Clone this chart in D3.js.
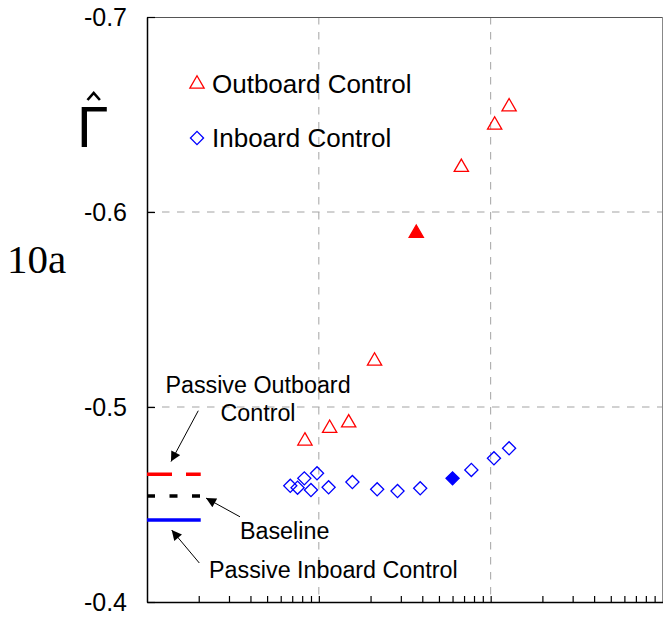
<!DOCTYPE html>
<html><head><meta charset="utf-8">
<script src="https://cdn.jsdelivr.net/npm/d3@7"></script>
<style>
body{margin:0;background:#fff}
svg{display:block}
text{font-family:Arial,"Liberation Sans",sans-serif;fill:#000}
</style>
</head><body>
<svg id="chart" width="664" height="621"></svg>
<script>
// ---------- data ----------
const outboardX = [0.0083, 0.01156, 0.01492, 0.0211, 0.0369, 0.0675, 0.1055, 0.128];
const outboardY = [-0.4826, -0.4891, -0.4919, -0.5236, -0.5891, -0.6229, -0.6446, -0.654];
const outboardFilled = [false, false, false, false, true, false, false, false];

const inboardX = [0.00682, 0.00752, 0.00823, 0.0090, 0.00976, 0.0114, 0.01568, 0.02185, 0.0287, 0.0389, 0.060, 0.0772, 0.1045, 0.128];
const inboardY = [-0.4596, -0.4586, -0.4634, -0.4574, -0.4660, -0.4588, -0.4615, -0.4578, -0.4569, -0.4583, -0.4634, -0.4677, -0.4737, -0.4788];
const inboardFilled = [false, false, false, false, false, false, false, false, false, false, true, false, false, false];

const refNames = ["Passive Outboard Control", "Baseline", "Passive Inboard Control"];
const refValues = [-0.4655, -0.4544, -0.4421];
const refXExtent = [0.001, 0.002];

const yTicks = [-0.7, -0.6, -0.5, -0.4];
const yTickLabels = ["-0.7", "-0.6", "-0.5", "-0.4"];
const xGrid = [0.01, 0.1];
const yGrid = [-0.6, -0.5];
const xDomain = [0.001, 1];
const yDomain = [-0.7, -0.4];

const legendNames = ["Outboard Control", "Inboard Control"];

// annotation anchors in data coordinates
const annTextLines = [["Passive Outboard", "Control"], ["Baseline"], ["Passive Inboard Control"]];
const annTextX = [0.004426, 0.003476, 0.002296];
const annTextY = [-0.5072, -0.4323, -0.4123];
const annArrowFromX = [0.001988, 0.003476, 0.002016];
const annArrowFromY = [-0.4981, -0.4437, -0.4200];
const annArrowToX = [0.001379, 0.002205, 0.001392];
const annArrowToY = [-0.4720, -0.4533, -0.4369];

// ---------- layout ----------
const plot = {left: 147, right: 662.5, top: 17, bottom: 602};
const svg = d3.select("#chart");

const x = d3.scaleLog().domain(xDomain).range([plot.left, plot.right]);
const y = d3.scaleLinear().domain(yDomain).range([plot.top, plot.bottom]);

const gridColor = "#a3a3a3";
const sans = "Arial, 'Liberation Sans', sans-serif";

// gridlines
svg.append("g").selectAll("line").data(xGrid).join("line")
  .attr("x1", d => x(d)).attr("x2", d => x(d))
  .attr("y1", plot.top).attr("y2", plot.bottom)
  .attr("stroke", gridColor).attr("stroke-width", 1).attr("stroke-dasharray", "7.5,7.5");
svg.append("g").selectAll("line").data(yGrid).join("line")
  .attr("x1", plot.left).attr("x2", plot.right)
  .attr("y1", d => y(d)).attr("y2", d => y(d))
  .attr("stroke", gridColor).attr("stroke-width", 1).attr("stroke-dasharray", "7.5,7.5");

// top & right frame
svg.append("line").attr("x1", plot.left).attr("x2", plot.right).attr("y1", plot.top + 0.5).attr("y2", plot.top + 0.5)
  .attr("stroke", "#555").attr("stroke-width", 1);
svg.append("line").attr("x1", plot.right).attr("x2", plot.right).attr("y1", plot.top).attr("y2", plot.bottom)
  .attr("stroke", "#888").attr("stroke-width", 1);

// y axis
const yAxis = d3.axisLeft(y).tickValues(yTicks).tickSizeInner(-8).tickSizeOuter(0).tickPadding(20)
  .tickFormat((d, i) => yTickLabels[i]);
const gy = svg.append("g").attr("transform", `translate(${plot.left},0)`).call(yAxis);
gy.select(".domain").attr("stroke", "#000").attr("stroke-width", 1.5);
gy.selectAll(".tick line").attr("stroke", "#000").attr("stroke-width", 1.2);
gy.selectAll(".tick text").attr("font-size", 25).style("font-family", sans).attr("fill", "#000");

// x axis (minor log ticks, no labels)
const xTickVals = [];
[0.001, 0.01, 0.1].forEach(dec => { for (let k = 2; k <= 10; k++) xTickVals.push(+(dec * k).toPrecision(3)); });
const xAxis = d3.axisBottom(x).tickValues(xTickVals.filter(v => v < 1)).tickSizeInner(-6).tickSizeOuter(0).tickFormat("");
const gx = svg.append("g").attr("transform", `translate(0,${plot.bottom})`).call(xAxis);
gx.select(".domain").attr("stroke", "#000").attr("stroke-width", 1.5);
gx.selectAll(".tick line").attr("stroke", "#000").attr("stroke-width", 1.2);

// reference lines
const refColors = ["#ff0000", "#000000", "#0000ff"];
const refDash = ["25,14", "8,14.5", null];
svg.append("g").selectAll("line").data(refValues).join("line")
  .attr("x1", x(refXExtent[0])).attr("x2", x(refXExtent[1]) + 2)
  .attr("y1", d => y(d)).attr("y2", d => y(d))
  .attr("stroke", (d, i) => refColors[i]).attr("stroke-width", 3.5)
  .attr("stroke-dasharray", (d, i) => refDash[i]);

// arrows
const defs = svg.append("defs");
defs.append("marker").attr("id", "ah").attr("viewBox", "0 0 10 10").attr("refX", 10).attr("refY", 5)
  .attr("markerWidth", 13).attr("markerHeight", 10).attr("markerUnits", "userSpaceOnUse").attr("orient", "auto")
  .append("path").attr("d", "M0,0 L10,5 L0,10 Z").attr("fill", "#000");
svg.append("g").selectAll("line").data(annArrowFromX).join("line")
  .attr("x1", (d, i) => x(annArrowFromX[i])).attr("y1", (d, i) => y(annArrowFromY[i]))
  .attr("x2", (d, i) => x(annArrowToX[i])).attr("y2", (d, i) => y(annArrowToY[i]))
  .attr("stroke", "#000").attr("stroke-width", 1).attr("marker-end", "url(#ah)");

// annotation text
const annAnchor = ["middle", "start", "start"];
annTextLines.forEach((lines, i) => {
  lines.forEach((ln, j) => {
    svg.append("text").attr("x", x(annTextX[i])).attr("y", y(annTextY[i]) + j * 28)
      .attr("text-anchor", annAnchor[i]).attr("font-size", 23.3).text(ln);
  });
});

// symbols
const tri = d3.symbol().type(d3.symbolTriangle).size(88);
const dia = d3.symbol().type(d3.symbolSquare).size(86);

svg.append("g").selectAll("path").data(inboardX).join("path")
  .attr("d", dia)
  .attr("transform", (d, i) => `translate(${x(inboardX[i])},${y(inboardY[i])}) rotate(45)`)
  .attr("fill", (d, i) => inboardFilled[i] ? "#0000ff" : "none")
  .attr("stroke", "#0000ff").attr("stroke-width", 1.3);

svg.append("g").selectAll("path").data(outboardX).join("path")
  .attr("d", tri)
  .attr("transform", (d, i) => `translate(${x(outboardX[i])},${y(outboardY[i])})`)
  .attr("fill", (d, i) => outboardFilled[i] ? "#ff0000" : "none")
  .attr("stroke", "#ff0000").attr("stroke-width", 1.3);

// legend
const legY = [84, 138];
svg.append("path").attr("d", tri).attr("transform", `translate(197,${legY[0]})`)
  .attr("fill", "none").attr("stroke", "#ff0000").attr("stroke-width", 1.3);
svg.append("path").attr("d", dia).attr("transform", `translate(197,${legY[1]}) rotate(45)`)
  .attr("fill", "none").attr("stroke", "#0000ff").attr("stroke-width", 1.3);
legendNames.forEach((t, i) => {
  svg.append("text").attr("x", 212).attr("y", legY[i] + 8.7).attr("font-size", 26).text(t);
});

// y-axis title: Gamma-hat over "10a"
svg.append("text").attr("x", 77).attr("y", 147).attr("font-size", 57).text("Γ");
svg.append("path").attr("d", "M87.5,100 L93.7,93 L99.9,100").attr("fill", "none")
  .attr("stroke", "#000").attr("stroke-width", 2.6);
svg.append("text").attr("x", 7).attr("y", 273).attr("font-size", 41)
  .style("font-family", "'Liberation Serif','Times New Roman',serif").text("10a");
</script>
</body></html>
